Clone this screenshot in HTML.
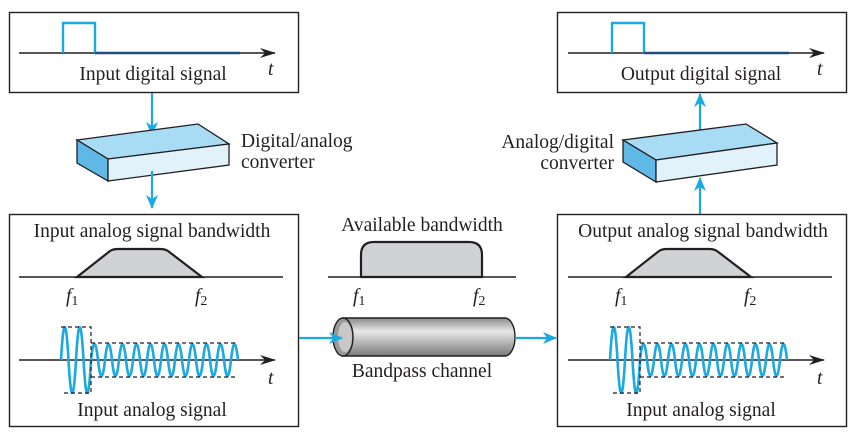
<!DOCTYPE html>
<html><head><meta charset="utf-8"><style>
body{margin:0;background:#fff}
svg{display:block}
text{font-family:"Liberation Serif",serif;font-size:19.5px;fill:#231f20}
.it{font-style:italic}
</style></head><body>
<svg width="856" height="436" viewBox="0 0 856 436" xmlns="http://www.w3.org/2000/svg">
<defs>
<marker id="ab" markerWidth="14" markerHeight="12" refX="13" refY="6" orient="auto" markerUnits="userSpaceOnUse" viewBox="0 0 14 12"><path d="M0,0 L14,6 L0,12 L4,6z" fill="#1ba9e1"/></marker>
<marker id="ak" markerWidth="16" markerHeight="10" refX="15" refY="5" orient="auto" markerUnits="userSpaceOnUse" viewBox="0 0 16 10"><path d="M0,0 L16,5 L0,10 L5,5z" fill="#231f20"/></marker>
<linearGradient id="cyl" x1="0" y1="0" x2="0" y2="1"><stop offset="0" stop-color="#8a8a8a"/><stop offset="0.35" stop-color="#e8e8e8"/><stop offset="1" stop-color="#7a7a7a"/></linearGradient>
<g id="wave">
<line x1="19" y1="360" x2="275" y2="360" stroke="#231f20" stroke-width="1.4" marker-end="url(#ak)"/>
<path d="M61,360 q3.75,-66 7.5,0 q3.75,66 7.5,0 q3.75,-66 7.5,0 q3.75,66 7.5,0 q3.5,-32 7,0 q3.5,32 7,0 q3.5,-32 7,0 q3.5,32 7,0 q3.5,-32 7,0 q3.5,32 7,0 q3.5,-32 7,0 q3.5,32 7,0 q3.5,-32 7,0 q3.5,32 7,0 q3.5,-32 7,0 q3.5,32 7,0 q3.5,-32 7,0 q3.5,32 7,0 q3.5,-32 7,0 q3.5,32 7,0 q3.5,-32 7,0 q3.5,32 7,0 q3.5,-32 7,0 q3.5,32 7,0 q3.5,-32 7,0" fill="none" stroke="#1ba9e1" stroke-width="2.6"/>
<path d="M61,327 H91 V393 H61 M91,343 H236 M91,377 H236" fill="none" stroke="#231f20" stroke-width="1.2" stroke-dasharray="4,3"/>
<path d="M19,277 H283" stroke="#231f20" stroke-width="1.4"/>
<path d="M77,277 L110,251 Q113,249 118,249 H160 Q165,249 168,251 L202,277Z" fill="#d1d2d4" stroke="#231f20" stroke-width="2.2"/>
<text x="66" y="302" class="it">f<tspan font-size="14" dy="3" font-style="normal">1</tspan></text>
<text x="195" y="302" class="it">f<tspan font-size="14" dy="3" font-style="normal">2</tspan></text>
</g>
<g id="dig">
<line x1="19" y1="53" x2="275" y2="53" stroke="#231f20" stroke-width="1.4" marker-end="url(#ak)"/>
<path d="M63,53 V23 H95 V53" fill="none" stroke="#1ba9e1" stroke-width="2.4"/>
<line x1="95" y1="53" x2="240" y2="53" stroke="#1f4e79" stroke-width="2.6"/>
<text x="268" y="75" class="it">t</text>
</g>
</defs>

<!-- left -->
<rect x="9.5" y="12.5" width="289" height="80" fill="none" stroke="#231f20" stroke-width="1.4"/>
<use href="#dig"/>
<text x="153" y="80" text-anchor="middle">Input digital signal</text>
<line x1="152" y1="93" x2="152" y2="135" stroke="#1ba9e1" stroke-width="2.2" marker-end="url(#ab)"/>
<polygon points="77,140 198,124 229,144 108,159" fill="#a8dcf4" stroke="#231f20" stroke-width="1.3"/>
<polygon points="77,140 108,159 108,181 77,163" fill="#5fb8e6" stroke="#231f20" stroke-width="1.3"/>
<polygon points="108,159 229,144 229,165 108,181" fill="#e1f2fb" stroke="#231f20" stroke-width="1.3"/>
<line x1="152" y1="171" x2="152" y2="208" stroke="#1ba9e1" stroke-width="2.2" marker-end="url(#ab)"/>
<text x="241" y="147">Digital/analog</text>
<text x="241" y="168">converter</text>

<rect x="9.5" y="214.5" width="289" height="212" fill="none" stroke="#231f20" stroke-width="1.4"/>
<text x="152" y="237" text-anchor="middle">Input analog signal bandwidth</text>
<use href="#wave"/>
<text x="268" y="384" class="it">t</text>
<text x="152" y="416" text-anchor="middle">Input analog signal</text>

<!-- middle -->
<text x="422" y="231" text-anchor="middle">Available bandwidth</text>
<path d="M328,277 H516" stroke="#231f20" stroke-width="1.4"/>
<path d="M361,277 V255 Q361,242 374,242 H469 Q482,242 482,255 V277Z" fill="#d1d2d4" stroke="#231f20" stroke-width="2.2"/>
<text x="353" y="302" class="it">f<tspan font-size="14" dy="3" font-style="normal">1</tspan></text>
<text x="473" y="302" class="it">f<tspan font-size="14" dy="3" font-style="normal">2</tspan></text>
<path d="M343,318 H505 A10,19 0 0 1 505,356 H343Z" fill="url(#cyl)" stroke="#231f20" stroke-width="1.4"/>
<ellipse cx="343" cy="337" rx="10" ry="19" fill="#9a9a9a" stroke="#231f20" stroke-width="1.4"/>
<ellipse cx="345" cy="337" rx="7" ry="15" fill="#c8c8c8"/>
<line x1="299" y1="338" x2="342" y2="338" stroke="#1ba9e1" stroke-width="2.2" marker-end="url(#ab)"/>
<line x1="515" y1="338" x2="556" y2="338" stroke="#1ba9e1" stroke-width="2.2" marker-end="url(#ab)"/>
<text x="422" y="377" text-anchor="middle">Bandpass channel</text>

<!-- right -->
<rect x="557.5" y="12.5" width="289" height="80" fill="none" stroke="#231f20" stroke-width="1.4"/>
<use href="#dig" transform="translate(549,0)"/>
<text x="701" y="80" text-anchor="middle">Output digital signal</text>
<line x1="700" y1="139" x2="700" y2="94" stroke="#1ba9e1" stroke-width="2.2" marker-end="url(#ab)"/>
<polygon points="623,140 746,124 777,143 656,160" fill="#a8dcf4" stroke="#231f20" stroke-width="1.3"/>
<polygon points="623,140 656,160 656,182 623,162" fill="#5fb8e6" stroke="#231f20" stroke-width="1.3"/>
<polygon points="656,160 777,143 777,165 656,182" fill="#e1f2fb" stroke="#231f20" stroke-width="1.3"/>
<line x1="700" y1="214" x2="700" y2="178" stroke="#1ba9e1" stroke-width="2.2" marker-end="url(#ab)"/>
<text x="614" y="148" text-anchor="end">Analog/digital</text>
<text x="614" y="169" text-anchor="end">converter</text>

<rect x="557.5" y="214.5" width="289" height="212" fill="none" stroke="#231f20" stroke-width="1.4"/>
<text x="703" y="237" text-anchor="middle">Output analog signal bandwidth</text>
<use href="#wave" transform="translate(549,0)"/>
<text x="817" y="384" class="it">t</text>
<text x="701" y="416" text-anchor="middle">Input analog signal</text>
</svg>
</body></html>
